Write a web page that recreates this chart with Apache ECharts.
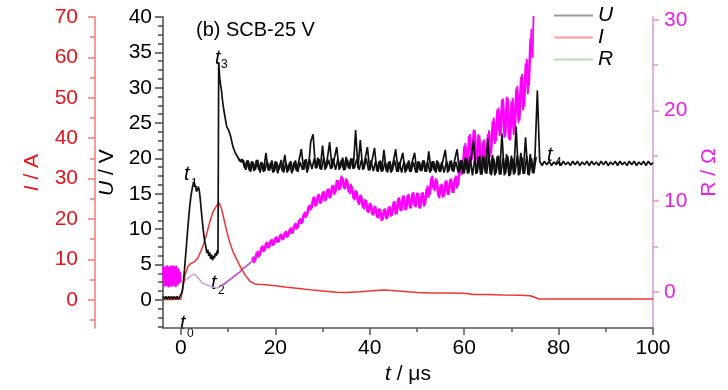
<!DOCTYPE html>
<html><head><meta charset="utf-8">
<script src="https://cdn.jsdelivr.net/npm/echarts@6/dist/echarts.min.js"></script>
<style>html,body{margin:0;padding:0;background:#fff}#c{width:728px;height:390px}</style>
</head><body><div id="c"></div>
<script>
// ---------- data ----------
// Voltage U (V)
const uPreT = [-3.8,-3.5,-3.2,-2.9,-2.6,-2.3,-2.0,-1.7,-1.4,-1.1,-0.8,-0.5,-0.2,0.0];
const uPreV = [0.5,0.1,0.5,0.1,0.5,0.1,0.5,0.1,0.5,0.1,0.5,0.1,0.5,0.4];
const uEarlyT = [0.3,0.6,0.9,1.2,1.5,1.8,2.1,2.4,2.7,2.9,3.1,3.3,3.5,3.7,3.9,4.1,4.4,4.7,5.0,5.3,5.5,5.7,5.9,6.1,6.3,6.5,6.7,6.9,7.1,7.3,7.5,7.7,7.85,8.0,8.2,8.4,8.6,8.8,9.0,9.3,9.7,10.1,10.5,11.0,11.5];
const uEarlyV = [1.2,3.0,5.5,8.0,10.5,12.8,14.6,15.8,16.7,16.5,16.0,15.3,15.6,16.0,15.4,14.2,12.0,10.0,8.4,7.4,6.6,7.1,6.2,6.7,5.8,6.4,5.6,6.2,5.9,6.6,6.2,7.0,6.5,33.6,31.5,30.4,29.6,28.2,27.2,26.0,24.5,24.0,23.2,21.7,20.8];
// oscilloscope samples from t = 12 µs, every 0.5 µs
const uBandStart = 12, uBandStep = 0.5;
const uBandV = [20.2,19.6,19.9,18.6,19.7,18.3,19.6,18.2,19.8,18.4,19.5,18.1,20.8,18.3,19.4,18.0,19.6,17.9,19.3,18.2,
20.5,18.0,19.4,17.9,19.5,18.2,19.7,21.3,18.4,19.9,18.5,22.4,23.4,18.6,20.1,18.5,21.8,18.4,19.9,22.3,
18.6,20.0,21.6,18.4,19.8,18.3,20.2,18.6,20.0,18.5,24.0,18.6,22.6,18.4,19.9,21.6,18.3,19.8,21.5,18.2,
19.6,18.1,21.2,18.2,19.5,18.0,19.6,21.3,18.1,19.5,20.8,18.0,19.4,18.1,19.6,20.8,18.0,19.5,18.2,19.7,
18.1,21.0,18.2,19.6,18.0,19.5,18.1,19.7,21.2,18.0,19.6,18.2,19.8,21.3,18.1,19.7,17.9,20.0,18.0,20.3,
22.5,17.8,20.2,17.7,20.4,17.9,22.8,17.8,20.5,17.6,20.3,17.7,23.5,17.6,20.6,17.5,20.4,17.7,24.5,17.6,
20.8,17.8,23.0,17.7,20.6,17.9,20.4,29.6];
// interleaved samples from t = 12.25 µs, every 0.5 µs
const uBand2Start = 12.25, uBand2Step = 0.5;
const uBand2V = [20.0,19.5,19.7,18.4,19.7,18.1,19.5,18.4,19.8,18.0,19.4,18.2,19.6,18.3,19.7,18.1,19.5,18.4,19.8,18.0,
19.4,18.2,19.6,18.3,19.7,18.1,19.5,18.4,19.8,18.0,19.9,18.5,20.0,18.6,19.9,18.4,20.1,18.6,19.8,18.5,
20.0,18.4,19.9,18.6,20.1,18.4,19.8,18.5,20.0,18.6,19.9,18.4,19.8,18.5,20.0,18.3,19.7,18.2,19.6,18.1,
19.7,18.2,19.5,18.0,19.6,18.2,19.7,18.1,19.5,18.0,19.6,18.2,19.7,18.1,19.5,18.0,19.6,18.2,19.7,18.1,
19.5,18.0,19.6,18.2,19.7,18.1,19.5,18.0,19.6,18.2,19.7,18.1,19.5,18.0,19.8,17.9,20.1,17.8,20.3,17.6,
20.0,17.9,20.4,17.7,20.1,17.8,20.3,17.6,20.0,17.9,20.4,17.7,20.1,17.8,20.3,17.6,20.0,17.9,20.4,17.7,
20.1,17.8,20.3,17.6,20.0,17.9,20.2];
const uTailStart = 76, uTailStep = 0.5;
const uTailV = [19.6,19.0,19.6,19.1,19.6,19.0,19.5,19.1,19.6,19.0,19.6,19.1,19.5,19.0,19.6,19.1,19.6,19.0,19.5,19.1,
19.6,19.0,19.6,19.1,19.5,19.0,19.6,19.1,19.6,19.0,19.5,19.1,19.6,19.0,19.6,19.1,19.5,19.0,19.6,19.1,
19.6,19.0,19.5,19.1,19.6,19.0,19.6,19.1,19.4];

// Current I (A)
const iT = [-3.8,-2,0,0.35,0.85,1.5,2.0,2.5,3.0,3.6,4.2,4.7,5.4,6.1,6.8,7.5,8.1,8.6,9.2,9.8,10.4,11.0,11.8,12.5,13.5,14.6,15.5,16.5,17.4,20,22,25,28,30,33,35,38,40,43,46,50,53,56,60,62,65,68,72,74,75.2,75.8,80,90,100];
const iV = [0.1,0.1,0.2,2.7,6.0,8.3,8.9,9.2,9.6,10.4,12.0,13.5,16.0,19.3,21.8,23.2,24.0,22.5,19.5,16.5,14.0,12.0,10.0,8.4,6.3,4.6,4.0,3.8,3.8,3.5,3.2,2.8,2.4,2.2,1.9,1.8,2.0,2.2,2.4,2.2,1.8,1.7,1.7,1.6,1.3,1.3,1.2,1.1,1.0,0.5,0.2,0.2,0.2,0.2];

// Resistance R (Ohm)
const rPreT = [-3.8,-3.6,-3.4,-3.2,-3.0,-2.8,-2.6,-2.4,-2.2,-2.0,-1.8,-1.6,-1.4,-1.2,-1.0,-0.8,-0.6,-0.4,-0.2,0.0];
const rPreV = [2.7,0.7,2.8,0.6,2.9,0.8,2.6,0.5,2.9,0.7,2.8,0.6,2.7,0.8,2.9,0.7,2.6,0.9,2.2,1.1];
const rPre2T = [-3.7,-3.5,-3.3,-3.1,-2.9,-2.7,-2.5,-2.3,-2.1,-1.9,-1.7,-1.5,-1.3,-1.1,-0.9,-0.7,-0.5,-0.3,-0.1];
const rPre2V = [2.8,0.6,2.7,0.7,2.9,0.5,2.8,0.8,2.6,0.6,2.9,0.7,2.8,0.5,2.7,0.8,2.5,1.0,1.9];
const rAT = [0.0,0.5,1.0,1.5,2.0,2.5,3.0,3.5,4.0,4.5,5.0,5.5,6.0,6.5,7.0,7.5,8.0];
const rAV = [1.1,1.1,1.3,1.5,1.7,1.9,1.9,1.6,1.3,1.0,0.85,0.75,0.65,0.55,0.5,0.45,0.45];
const rBT = [8.5,9.0,9.5,10.0,10.5,11.0,11.5,12.0,12.5,13.0,13.5,14.0,14.5,15.0];
const rBV = [0.7,0.8,1.0,1.2,1.4,1.6,1.8,2.0,2.2,2.5,2.7,2.9,3.1,3.4];
const rBandStart = 15, rBandStep = 0.5;
const rBandV = [3.7,3.2,4.3,3.8,4.9,4.4,5.4,4.8,5.7,5.1,6.0,5.4,6.3,5.7,6.6,6.0,6.9,6.4,7.4,6.9,
7.9,7.5,8.6,8.2,9.4,9.0,10.4,9.4,10.7,9.7,11.0,10.0,11.3,10.3,11.7,10.7,12.3,11.2,12.8,11.4,
12.5,11.0,11.9,10.3,11.2,9.8,10.7,9.3,10.2,8.8,9.8,8.5,9.5,8.2,9.2,7.8,9.1,8.0,9.4,8.3,
9.9,8.5,10.3,8.9,10.6,9.0,10.7,9.2,10.9,9.4,10.9,9.2,10.9,9.4,11.4,10.4,12.6,11.3,12.5,10.5,
11.8,10.4,12.2,10.7,12.4,10.9,12.6,11.4,13.6,12.9,16.1,13.5,17.2,14.4,17.9,14.5,17.4,13.8,16.6,13.7,
17.4,14.9,18.8,16.3,20.1,17.2,21.2,17.0,21.5,16.8,21.0,17.3,22.4,18.6,23.7,20.0,25.2,21.8,27.9,25.8];
const rBand2Start = 15.25, rBand2Step = 0.5;
const rBand2V = [3.9,3.4,4.5,4.0,5.1,4.5,5.5,4.9,5.8,5.2,6.1,5.5,6.4,5.8,6.7,6.1,7.1,6.5,7.6,7.0,
8.1,7.6,8.8,8.4,9.6,9.2,10.5,9.5,10.8,9.8,11.1,10.1,11.4,10.4,11.8,10.9,12.3,11.3,12.6,11.3,
12.3,10.8,11.6,10.1,11.1,9.6,10.6,9.1,10.1,8.7,9.7,8.4,9.4,8.1,9.1,7.9,9.2,8.1,9.4,8.4,
10.0,8.6,10.4,8.9,10.6,9.0,10.8,9.2,11.0,9.3,10.9,9.2,11.0,9.6,11.7,10.7,12.8,11.1,12.3,10.3,
11.9,10.5,12.3,10.7,12.5,10.9,12.8,11.7,14.0,13.3,16.4,13.8,17.4,14.6,17.8,14.4,17.2,13.6,16.8,14.0,
17.8,15.3,19.2,16.6,20.3,17.3,21.3,17.1,21.4,16.7,21.4,17.7,22.7,18.9,24.0,20.4,25.7,22.7,29.0];
const rEndT = [74.7];
const rEndV = [30.6];

// tick labels
const tTicks = [0,20,40,60,80,100];
const uTicks = [0,5,10,15,20,25,30,35,40];
const iTicks = [0,10,20,30,40,50,60,70];
const rTicks = [0,10,20,30];

// ---------- build ----------
const zip = (t, v) => t.map((x, k) => [x, v[k]]);
const sampled = (t0, dt, v) => v.map((y, k) => [+(t0 + k * dt).toFixed(3), y]);
const uData = [].concat(zip(uPreT, uPreV), zip(uEarlyT, uEarlyV), sampled(uBandStart, uBandStep, uBandV), sampled(uTailStart, uTailStep, uTailV));
const uData2 = sampled(uBand2Start, uBand2Step, uBand2V);
const iData = zip(iT, iV);
const rPre = zip(rPreT, rPreV);
const rPre2 = zip(rPre2T, rPre2V);
const rA = zip(rAT, rAV);
const rB = zip(rBT, rBV);
const rMain = [].concat(sampled(rBandStart, rBandStep, rBandV), zip(rEndT, rEndV));
const rMain2 = sampled(rBand2Start, rBand2Step, rBand2V);

const FONT = 'Liberation Sans, Arial, sans-serif';
const range = (a, b, s) => { const r = []; for (let v = a; v <= b + 1e-9; v += s) r.push(+v.toFixed(3)); return r; };
const minorU = range(-3.75, 38.75, 1.25).filter(v => Math.abs(v % 5) > 1e-6);
const minorI = range(-5, 65, 10);
const minorR = [5, 15, 25];
const minorX = [10, 30, 50, 70, 90];

function yAx(o) {
  return Object.assign({ type: 'value', gridIndex: 0, splitLine: { show: false } }, o);
}
const UCOL = '#4a4a4a', ICOL = '#f07a7a', RCOL = '#d398d8';
const ILAB = '#e3141c', RLAB = '#e61ee6';

function line(name, axis, data, color, width, z) {
  return { name: name, type: 'line', yAxisIndex: axis, data: data, showSymbol: false, symbol: 'none',
    lineStyle: { color: color, width: width }, itemStyle: { color: color }, z: z };
}

const chart = echarts.init(document.getElementById('c'), null, { renderer: 'canvas' });
chart.setOption({
  backgroundColor: '#fff',
  animation: false,
  textStyle: { fontFamily: FONT },
  grid: { left: 163, right: 75, top: 17, bottom: 53, containLabel: false },
  legend: {
    orient: 'vertical', left: 554, top: 5, padding: 0, itemWidth: 39, itemHeight: 2, itemGap: 1,
    selectedMode: false,
    textStyle: { fontSize: 21, fontStyle: 'italic', color: '#000', fontFamily: FONT },
    data: [
      { name: 'U', icon: 'rect', itemStyle: { color: '#9b9b9b' } },
      { name: 'I', icon: 'rect', itemStyle: { color: '#ff9c9c' } },
      { name: 'R', icon: 'rect', itemStyle: { color: '#bcdcbc' } }
    ]
  },
  xAxis: [
    { type: 'value', min: -3.8, max: 100, position: 'bottom',
      axisLine: { onZero: false, lineStyle: { color: '#555', width: 1.5 } },
      axisTick: { customValues: tTicks, length: 7, lineStyle: { color: '#555', width: 1.5 } },
      axisLabel: { customValues: tTicks, color: '#000', fontSize: 21, margin: 10, fontFamily: FONT },
      splitLine: { show: false },
      name: '{i|t} / μs', nameLocation: 'middle', nameGap: 32,
      nameTextStyle: { fontSize: 21, color: '#000', fontFamily: FONT,
        rich: { i: { fontSize: 21, fontStyle: 'italic', color: '#000', fontFamily: FONT } } } },
    { type: 'value', min: -3.8, max: 100, position: 'bottom',
      axisLine: { show: false, onZero: false },
      axisTick: { customValues: minorX, length: 4, lineStyle: { color: '#555', width: 1.5 } },
      axisLabel: { show: false }, splitLine: { show: false } }
  ],
  yAxis: [
    yAx({ min: -4, max: 40, position: 'left', offset: 0,
      axisLine: { show: true, onZero: false, lineStyle: { color: UCOL, width: 1.5 } },
      axisTick: { show: true, customValues: uTicks, length: 8, lineStyle: { color: UCOL, width: 1.5 } },
      axisLabel: { customValues: uTicks, color: '#000', fontSize: 21, margin: 11, fontFamily: FONT },
      name: '{i|U} / V', nameLocation: 'middle', nameGap: 29, nameRotate: 90,
      nameTextStyle: { fontSize: 21, color: '#000', fontFamily: FONT,
        rich: { i: { fontSize: 21, fontStyle: 'italic', color: '#000', fontFamily: FONT } } } }),
    yAx({ min: -4, max: 40, position: 'left', offset: 0,
      axisLine: { show: false, onZero: false },
      axisTick: { show: true, customValues: minorU, length: 5, lineStyle: { color: UCOL, width: 1.5 } },
      axisLabel: { show: false } }),
    yAx({ min: -7, max: 70, position: 'left', offset: 68,
      axisLine: { show: true, onZero: false, lineStyle: { color: ICOL, width: 1.5 } },
      axisTick: { show: true, customValues: iTicks, length: 7, lineStyle: { color: ICOL, width: 1.5 } },
      axisLabel: { customValues: iTicks, color: ILAB, fontSize: 21, margin: 17, fontFamily: FONT },
      name: '{i|I} / A', nameLocation: 'middle', nameGap: 52, nameRotate: 90,
      nameTextStyle: { fontSize: 21, color: ILAB, fontFamily: FONT,
        rich: { i: { fontSize: 21, fontStyle: 'italic', color: ILAB, fontFamily: FONT } } } }),
    yAx({ min: -7, max: 70, position: 'left', offset: 68,
      axisLine: { show: false, onZero: false },
      axisTick: { show: true, customValues: minorI, length: 5, lineStyle: { color: ICOL, width: 1.5 } },
      axisLabel: { show: false } }),
    yAx({ min: -4, max: 30.3, position: 'right', offset: 0,
      axisLine: { show: true, onZero: false, lineStyle: { color: RCOL, width: 1.5 } },
      axisTick: { show: true, customValues: rTicks, length: 6, lineStyle: { color: RCOL, width: 1.5 } },
      axisLabel: { customValues: rTicks, color: RLAB, fontSize: 21, margin: 11, fontFamily: FONT },
      name: 'R / Ω', nameLocation: 'middle', nameGap: 38, nameRotate: 90,
      nameTextStyle: { fontSize: 21, color: RLAB, fontFamily: FONT } }),
    yAx({ min: -4, max: 30.3, position: 'right', offset: 0,
      axisLine: { show: false, onZero: false },
      axisTick: { show: true, customValues: minorR, length: 5, lineStyle: { color: RCOL, width: 1.5 } },
      axisLabel: { show: false } })
  ],
  series: [
    line('R', 4, rPre, '#ff00ff', 1.8, 2),
    line('R', 4, rPre2, '#ff00ff', 1.8, 2),
    line('R', 4, rA, '#c9a2da', 1.5, 2),
    line('R', 4, rB, '#b94ccc', 1.6, 2),
    line('R', 4, rMain, '#ff00ff', 1.8, 2),
    line('R', 4, rMain2, '#ff00ff', 1.8, 2),
    line('I', 2, iData, '#f03434', 1.5, 3),
    line('U', 0, uData, '#111', 1.7, 4),
    line('U', 0, uData2, '#111', 1.7, 4)
  ],
  graphic: [
    { type: 'text', left: 196, top: 20, style: { text: '(b) SCB-25 V', fontSize: 20, fill: '#000', fontFamily: FONT } },
    { type: 'text', left: 180, top: 313, style: { text: 't', fontSize: 20, fontStyle: 'italic', fill: '#000', fontFamily: FONT } },
    { type: 'text', left: 187, top: 328, style: { text: '0', fontSize: 12, fill: '#000', fontFamily: FONT } },
    { type: 'text', left: 184, top: 164, style: { text: 't', fontSize: 20, fontStyle: 'italic', fill: '#000', fontFamily: FONT } },
    { type: 'text', left: 191, top: 178, style: { text: '1', fontSize: 12, fill: '#000', fontFamily: FONT } },
    { type: 'text', left: 211, top: 273, style: { text: 't', fontSize: 20, fontStyle: 'italic', fill: '#000', fontFamily: FONT } },
    { type: 'text', left: 218, top: 285, style: { text: '2', fontSize: 12, fill: '#000', fontFamily: FONT } },
    { type: 'text', left: 215, top: 48, style: { text: 't', fontSize: 20, fontStyle: 'italic', fill: '#000', fontFamily: FONT } },
    { type: 'text', left: 221, top: 59, style: { text: '3', fontSize: 12, fill: '#000', fontFamily: FONT } },
    { type: 'text', left: 547, top: 145, style: { text: 't', fontSize: 20, fontStyle: 'italic', fill: '#000', fontFamily: FONT } },
    { type: 'text', left: 555, top: 157, style: { text: '4', fontSize: 12, fill: '#000', fontFamily: FONT } }
  ]
});
</script>
</body></html>
